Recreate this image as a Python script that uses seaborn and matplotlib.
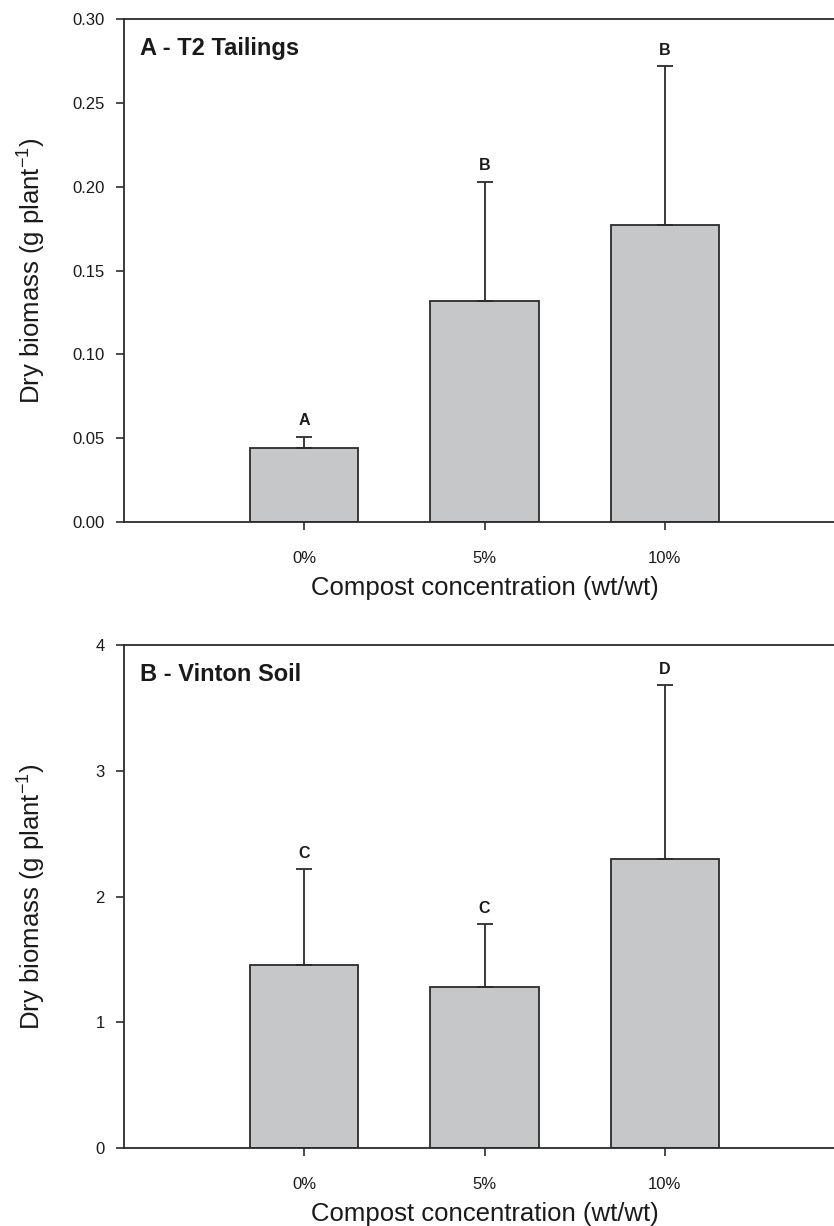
import numpy as np
import pandas as pd
import seaborn as sns
import matplotlib.pyplot as plt

categories = ['0%', '5%', '10%']

t2_means = [0.044, 0.132, 0.177]
t2_err = [0.007, 0.071, 0.095]
t2_letters = ['A', 'B', 'B']

vinton_means = [1.455, 1.28, 2.30]
vinton_err = [0.765, 0.50, 1.38]
vinton_letters = ['C', 'C', 'D']

sns.set_style('ticks')
plt.rcParams['font.family'] = ['Liberation Sans', 'DejaVu Sans']
plt.rcParams['mathtext.default'] = 'regular'

bar_color = '#c6c7c9'
edge = '#2b2b2b'

fig = plt.figure(figsize=(8.34, 12.26), dpi=100)
ax1 = fig.add_axes([0.1487, 0.5742, 0.8645, 0.4103])
ax2 = fig.add_axes([0.1487, 0.0636, 0.8645, 0.4103])


def panel(ax, means, err, letters, title, ylim, yticks, fmt):
    df = pd.DataFrame({'conc': categories, 'mass': means})
    sns.barplot(data=df, x='conc', y='mass', color=bar_color, width=0.6,
                edgecolor=edge, linewidth=1.3, saturation=1, errorbar=None, ax=ax)
    xs = np.arange(len(categories))
    ax.errorbar(xs, means, yerr=[np.zeros(len(err)), err], fmt='none',
                ecolor=edge, elinewidth=1.3, capsize=5.5, capthick=1.3)
    for x, m, e, lab in zip(xs, means, err, letters):
        ax.annotate(lab, (x, m + e), xytext=(0, 6), textcoords='offset points',
                    ha='center', va='bottom', fontsize=11.5, fontweight='bold', color='#1a1a1a')
    ax.set_xlim(-1, 3)
    ax.set_ylim(*ylim)
    ax.set_yticks(yticks)
    ax.set_yticklabels([fmt.format(v) for v in yticks])
    ax.text(0.022, 0.942, title, transform=ax.transAxes, fontsize=17,
            fontweight='bold', va='center', ha='left', color='#1a1a1a')
    ax.set_xlabel('Compost concentration (wt/wt)', fontsize=18.5, labelpad=7, color='#1a1a1a')
    ax.set_ylabel('Dry biomass (g plant$^{-1}$)', fontsize=18.5, color='#1a1a1a')
    ax.yaxis.set_label_coords(-0.105, 0.5)
    ax.tick_params(axis='both', direction='out', length=6, width=1.2, colors=edge,
                   labelsize=12, labelcolor='#1a1a1a')
    ax.tick_params(axis='x', pad=15)
    ax.tick_params(axis='y', pad=8)
    for s in ['left', 'bottom', 'top']:
        ax.spines[s].set_color(edge)
        ax.spines[s].set_linewidth(1.3)
    ax.spines['right'].set_visible(False)


panel(ax1, t2_means, t2_err, t2_letters, 'A - T2 Tailings',
      (0, 0.30), [0, 0.05, 0.10, 0.15, 0.20, 0.25, 0.30], '{:.2f}')
panel(ax2, vinton_means, vinton_err, vinton_letters, 'B - Vinton Soil',
      (0, 4), [0, 1, 2, 3, 4], '{:.0f}')

fig.savefig('out.png', dpi=100)
